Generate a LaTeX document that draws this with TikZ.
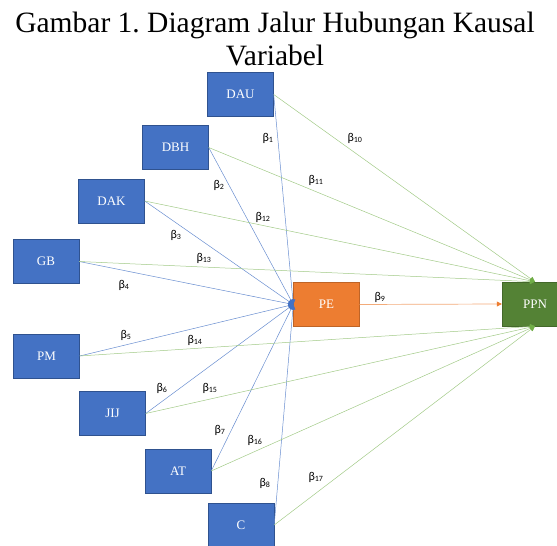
\documentclass[tikz,border=0pt]{standalone}
\usepackage{fontspec}
\setmainfont{Liberation Serif}
\newfontfamily\betafont{Carlito}
\usetikzlibrary{arrows.meta}

\definecolor{varblue}{HTML}{4472C4}
\definecolor{varblueline}{HTML}{2F528F}
\definecolor{peorange}{HTML}{ED7D31}
\definecolor{ppngreen}{HTML}{548235}
\definecolor{pathgreen}{HTML}{70AD47}

\begin{document}
\frenchspacing
\begin{tikzpicture}[
  x=10pt, y=10pt,
  >={Triangle[length=5pt, width=5pt]},
  var/.style={draw=varblueline, fill=varblue, minimum width=66pt,
    minimum height=44pt, inner sep=0pt, text=white,
    font=\fontsize{13}{13}\selectfont},
  endog/.style={var, draw=peorange!80!black, fill=peorange},
  target/.style={var, draw=ppngreen!80!black, fill=ppngreen},
  bluearr/.style={-{Triangle[length=5pt, width=5pt, color=varblue]},
    line width=0.5pt, varblue!80},
  greenarr/.style={-{Triangle[length=5pt, width=5pt, color=pathgreen]},
    line width=0.5pt, pathgreen!65},
  orangearr/.style={-{Triangle[length=5pt, width=5pt, color=peorange]},
    line width=0.7pt, peorange!65},
  coef/.style={font=\betafont\fontsize{12}{12}\selectfont, inner sep=0pt},
]
\useasboundingbox (0,0) rectangle (55.7,54.6);

% === Title ===
\node[font=\fontsize{29.5}{33}\selectfont, align=center] (title) at (27.5, 50.74)
  {Gambar 1. Diagram Jalur Hubungan Kausal\\Variabel};

% === Exogenous variables ===
\node[var] (dau) at (24.05, 45.15) {DAU};
\node[var] (dbh) at (17.55, 39.85) {DBH};
\node[var] (dak) at (11.15, 34.5) {DAK};
\node[var] (gb)  at (4.6, 28.45) {GB};
\node[var] (pm)  at (4.65, 19.0) {PM};
\node[var] (jij) at (11.25, 13.25) {JIJ};
\node[var] (at)  at (17.8, 7.5) {AT};
\node[var] (c)   at (24.1, 2.1) {C};

% === Intervening and dependent ===
\node[endog] (pe) at (32.65, 24.15) {PE};
\node[target] (ppn) at (53.5, 24.2) {PPN};

% paths to PE
\draw[bluearr] (dau.east) -- (pe.west);
\draw[bluearr] (dbh.east) -- (pe.west);
\draw[bluearr] (dak.east) -- (pe.west);
\draw[bluearr] (gb.east) -- (pe.west);
\draw[bluearr] (pm.east) -- (pe.west);
\draw[bluearr] (jij.east) -- (pe.west);
\draw[bluearr] (at.east) -- (pe.west);
\draw[bluearr] (c.east) -- (pe.west);

% paths to PPN
\draw[greenarr] (dau.east) -- (ppn.north);
\draw[greenarr] (dbh.east) -- (ppn.north);
\draw[greenarr] (dak.east) -- (ppn.north);
\draw[greenarr] (gb.east) -- (ppn.north);
\draw[greenarr] (pm.east) -- (ppn.south);
\draw[greenarr] (jij.east) -- (ppn.south);
\draw[greenarr] (at.east) -- (ppn.south);
\draw[greenarr] (c.east) -- (ppn.south);
\draw[orangearr] (pe.east) -- (ppn.west);

% === Coefficients ===
\node[coef] (b1)  at (26.8, 40.8) {β\textsubscript{1}};
\node[coef] (b2)  at (21.9, 36.1) {β\textsubscript{2}};
\node[coef] (b3)  at (17.6, 31.1) {β\textsubscript{3}};
\node[coef] (b4)  at (12.4, 26.1) {β\textsubscript{4}};
\node[coef] (b5)  at (12.6, 21.1) {β\textsubscript{5}};
\node[coef] (b6)  at (16.2, 15.8) {β\textsubscript{6}};
\node[coef] (b7)  at (22.0, 11.6) {β\textsubscript{7}};
\node[coef] (b8)  at (26.5, 6.3) {β\textsubscript{8}};
\node[coef] (b9)  at (38.0, 24.9) {β\textsubscript{9}};
\node[coef] (b10) at (35.5, 40.8) {β\textsubscript{10}};
\node[coef] (b11) at (31.6, 36.6) {β\textsubscript{11}};
\node[coef] (b12) at (26.3, 32.9) {β\textsubscript{12}};
\node[coef] (b13) at (20.4, 28.8) {β\textsubscript{13}};
\node[coef] (b14) at (19.5, 20.6) {β\textsubscript{14}};
\node[coef] (b15) at (21.0, 15.8) {β\textsubscript{15}};
\node[coef] (b16) at (25.5, 10.6) {β\textsubscript{16}};
\node[coef] (b17) at (31.6, 6.9) {β\textsubscript{17}};

\end{tikzpicture}
\end{document}
